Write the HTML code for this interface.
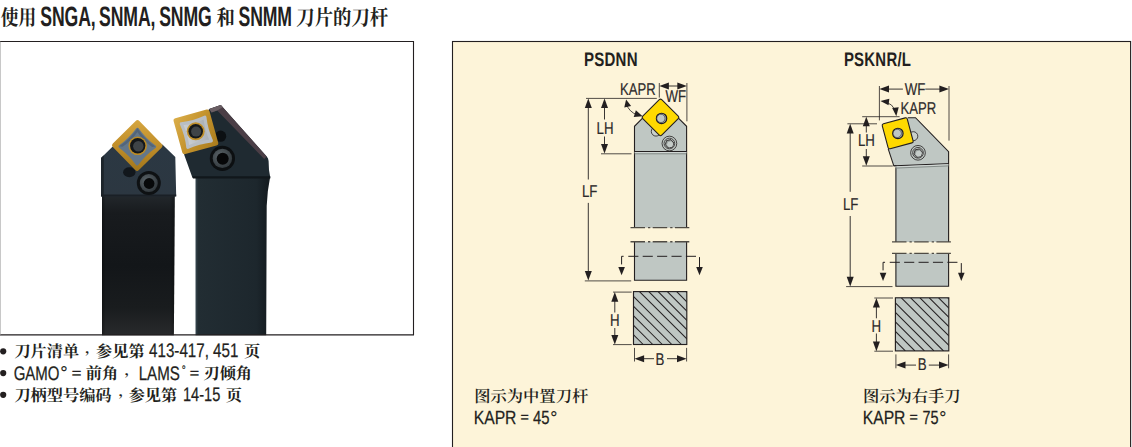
<!DOCTYPE html>
<html lang="zh-CN">
<head>
<meta charset="utf-8">
<title>使用 SNGA, SNMA, SNMG 和 SNMM 刀片的刀杆</title>
<style>
html,body{margin:0;padding:0;background:#fff;}
body{width:1132px;height:447px;position:relative;overflow:hidden;font-family:"Liberation Sans",sans-serif;}
#art{position:absolute;left:0;top:0;width:1132px;height:447px;display:block;}
</style>
</head>
<body>
<svg id="art" width="1132" height="447" viewBox="0 0 1132 447" font-family="'Liberation Sans', sans-serif" text-rendering="geometricPrecision">
<text transform="translate(0.73 24.80) scale(0.84 1)" font-size="21.2" font-weight="bold" fill="#231f20" font-family="'Liberation Serif', 'Noto Serif CJK SC', serif">使用</text>
<text transform="translate(40.30 25.55) scale(0.63 1)" font-size="28.0" fill="#231f20" font-weight="bold" letter-spacing="-0.190">SNGA,</text>
<text transform="translate(99.10 25.55) scale(0.63 1)" font-size="28.0" fill="#231f20" font-weight="bold" letter-spacing="-0.190">SNMA,</text>
<text transform="translate(159.20 25.55) scale(0.63 1)" font-size="28.0" fill="#231f20" font-weight="bold" letter-spacing="-0.190">SNMG</text>
<text transform="translate(238.50 25.55) scale(0.63 1)" font-size="28.0" fill="#231f20" font-weight="bold" letter-spacing="-0.190">SNMM</text>
<text transform="translate(216.38 24.80) scale(0.868 1)" font-size="21.2" font-weight="bold" fill="#231f20" font-family="'Liberation Serif', 'Noto Serif CJK SC', serif">和</text>
<text transform="translate(296.25 24.80) scale(0.868 1)" font-size="21.2" font-weight="bold" fill="#231f20" font-family="'Liberation Serif', 'Noto Serif CJK SC', serif">刀片的刀杆</text>
<!-- photo: two toolholders -->
<defs>
<linearGradient id="shL" x1="0" x2="0" y1="196" y2="335" gradientUnits="userSpaceOnUse"><stop offset="0" stop-color="#22272b"/><stop offset=".12" stop-color="#181b1e"/><stop offset=".5" stop-color="#131619"/><stop offset=".8" stop-color="#191c1e"/><stop offset="1" stop-color="#282a2c"/></linearGradient>
<linearGradient id="shLx" x1="102" x2="174.5" y1="0" y2="0" gradientUnits="userSpaceOnUse"><stop offset="0" stop-color="#000" stop-opacity=".35"/><stop offset=".05" stop-color="#000" stop-opacity="0"/><stop offset=".93" stop-color="#000" stop-opacity="0"/><stop offset="1" stop-color="#000" stop-opacity=".3"/></linearGradient>
<linearGradient id="shR" x1="195.5" x2="267" y1="0" y2="0" gradientUnits="userSpaceOnUse"><stop offset="0" stop-color="#3a4a52"/><stop offset=".035" stop-color="#222d33"/><stop offset=".85" stop-color="#1d272d"/><stop offset="1" stop-color="#151c21"/></linearGradient>
<linearGradient id="hdL" x1="0" x2="0" y1="146" y2="196" gradientUnits="userSpaceOnUse"><stop offset="0" stop-color="#2b3843"/><stop offset="1" stop-color="#2c3741"/></linearGradient>
<linearGradient id="gold" x1="0" x2="1" y1="0" y2="1"><stop offset="0" stop-color="#d6a741"/><stop offset=".5" stop-color="#c08e2a"/><stop offset="1" stop-color="#a2761b"/></linearGradient>
<linearGradient id="goldR" x1="0" x2="1" y1="0" y2="1"><stop offset="0" stop-color="#dbae49"/><stop offset=".5" stop-color="#c3922c"/><stop offset="1" stop-color="#aa7c1d"/></linearGradient>
<linearGradient id="slv" x1="0" x2="1" y1="0" y2="0"><stop offset="0" stop-color="#ccd0d4"/><stop offset="1" stop-color="#a9aeb4"/></linearGradient>
<radialGradient id="scr" cx=".4" cy=".38" r=".7"><stop offset="0" stop-color="#5d666b"/><stop offset="1" stop-color="#2d3438"/></radialGradient>
</defs>
<g id="photo">
<!-- left tool -->
<path d="M102 195.5 H174.8 L173.9 335.2 H102 Z" fill="url(#shL)"/>
<path d="M102 195.5 H174.8 L173.9 335.2 H102 Z" fill="url(#shLx)"/>
<path d="M101 196.2 V158 L112.7 146.6 L137 160 L162.4 144.6 L175.3 157 L176.2 196.2 Z" fill="url(#hdL)"/>
<path d="M101 196.2 V158 L103.8 155.2 V196.2 Z" fill="#1d252b"/>
<path d="M101 194.6 H176.2 V196.4 H101 Z" fill="#1a2026"/>
<ellipse cx="129.3" cy="172.3" rx="6.2" ry="5" fill="#12171c"/>
<g transform="translate(137.3 145.5) rotate(45.5)">
<rect x="-18.6" y="-18.6" width="37.2" height="37.2" rx="2.6" fill="url(#gold)"/>
<g transform="translate(0.8 0.8)"><path d="M-12.2 -12.2 Q0 -10.2 12.2 -12.2 Q10.2 0 12.2 12.2 Q0 10.2 -12.2 12.2 Q-10.2 0 -12.2 -12.2 Z" fill="#64778a" stroke="#64778a" stroke-width="3.2" stroke-linejoin="round"/>
<path d="M-13 12.6 Q-10.4 0 -13 -13 Q0 -10.4 12.6 -13 L10.6 -10.4 Q0 -8.2 -10.4 -10.4 Q-8.2 0 -10.4 10.6 Z" fill="#4d5f74" opacity=".75"/></g>
</g>
<circle cx="137.7" cy="145.8" r="9.3" fill="#bb8b26"/>
<circle cx="137.7" cy="145.8" r="7.7" fill="#14171a"/>
<circle cx="138.3" cy="146.3" r="5.2" fill="#3f4447"/>
<circle cx="148.8" cy="183.1" r="12" fill="#0e1113"/>
<circle cx="148.8" cy="183.1" r="9" fill="url(#scr)"/>
<circle cx="149.1" cy="183.5" r="5.4" fill="#07090a"/>
<!-- right tool -->
<path d="M195.5 176.5 H270.2 Q267.4 190 266.7 206 L266.2 335.2 H195.5 Z" fill="url(#shR)"/>
<path d="M192 176.6 L184.1 154.4 L190 130 L209.3 109.1 L220.8 105 L266.7 156.4 Q268.4 158 268.6 161 L269 170 L270.3 177.8 H192.6 Z" fill="#1f2a31"/>
<path d="M209.3 109.1 L220.8 105 L266.7 156.4 L264.2 158.9 L217.2 110.6 L211.5 112.4 Z" fill="#4b3e46"/>
<path d="M209.3 109.1 L220.8 105 L222.8 107.3 L217.2 110.6 L211.5 112.4 Z" fill="#6a5e63"/>
<path d="M192.3 176.2 H270.2 L270.3 178.6 H193 Z" fill="#11171b"/>
<circle cx="220.6" cy="136.2" r="5.6" fill="#0c1013"/>
<g transform="translate(195.9 131.8) rotate(-15.5)">
<rect x="-18.6" y="-18.6" width="37.2" height="37.2" rx="2.4" fill="url(#goldR)"/>
<path d="M-12.2 -12.2 Q0 -10.2 12.2 -12.2 Q10.2 0 12.2 12.2 Q0 10.2 -12.2 12.2 Q-10.2 0 -12.2 -12.2 Z" fill="url(#slv)" stroke="#b9bec3" stroke-width="3.2" stroke-linejoin="round" transform="translate(0.3 0.6)"/>
</g>
<circle cx="195.7" cy="131.3" r="9" fill="#c0902b"/>
<circle cx="195.7" cy="131.3" r="7.3" fill="#15181a"/>
<circle cx="196.1" cy="131.6" r="5" fill="#3f4447"/>
<circle cx="222.4" cy="158.4" r="12.6" fill="#0c0f11"/>
<circle cx="222.4" cy="158.4" r="9.7" fill="url(#scr)"/>
<circle cx="222.7" cy="158.8" r="6" fill="#060708"/>
</g>
<!-- photo frame -->
<path d="M0 41.5 H413.5 V334.9 H0" fill="none" stroke="#231f20" stroke-width="1.1"/>
<path d="M0.2 41.5 V335" fill="none" stroke="#9a9a9a" stroke-width="0.8"/>

<circle cx="3.2" cy="351.3" r="3.1" fill="#231f20"/>
<circle cx="3.2" cy="373.1" r="3.1" fill="#231f20"/>
<circle cx="3.2" cy="394.8" r="3.1" fill="#231f20"/>
<text x="14.41" y="357.00" font-size="16.2" font-weight="bold" fill="#231f20" font-family="'Liberation Serif', 'Noto Serif CJK SC', serif">刀片清单</text>
<text transform="translate(85.00 352.99) scale(1 0.814)" font-size="14.5" font-weight="bold" fill="#231f20" font-family="'Liberation Serif', 'Noto Serif CJK SC', serif">，</text>
<text x="96.06" y="357.00" font-size="16.2" font-weight="bold" fill="#231f20" font-family="'Liberation Serif', 'Noto Serif CJK SC', serif">参见第</text>
<text transform="translate(149.05 357.00) scale(0.7738 1)" font-size="19.6" fill="#231f20" stroke="#231f20" stroke-width="0.25">413-417, 451</text>
<text x="243.97" y="357.00" font-size="16.2" font-weight="bold" fill="#231f20" font-family="'Liberation Serif', 'Noto Serif CJK SC', serif">页</text>
<text transform="translate(13.64 379.60) scale(0.7659 1)" font-size="19.6" fill="#231f20" stroke="#231f20" stroke-width="0.25">GAMO</text>
<text transform="translate(60.29 379.00) scale(0.9922 1)" font-size="18.7" fill="#231f20" stroke="#231f20" stroke-width="0.15">°</text>
<text transform="translate(71.80 378.10) scale(1.1356 1)" font-size="14.5" fill="#231f20" stroke="#231f20" stroke-width="0.35">=</text>
<text x="85.81" y="378.80" font-size="16.2" font-weight="bold" fill="#231f20" font-family="'Liberation Serif', 'Noto Serif CJK SC', serif">前角</text>
<text transform="translate(124.40 375.19) scale(1 0.814)" font-size="14.5" font-weight="bold" fill="#231f20" font-family="'Liberation Serif', 'Noto Serif CJK SC', serif">，</text>
<text transform="translate(138.66 379.60) scale(0.7706 1)" font-size="19.6" fill="#231f20" stroke="#231f20" stroke-width="0.25">LAMS</text>
<text transform="translate(181.89 378.20) scale(0.7816 1)" font-size="15.7" fill="#231f20" stroke="#231f20" stroke-width="0.15">˚</text>
<text transform="translate(189.82 378.10) scale(1.1072 1)" font-size="14.5" fill="#231f20" stroke="#231f20" stroke-width="0.35">=</text>
<text x="203.51" y="378.80" font-size="16.2" font-weight="bold" fill="#231f20" font-family="'Liberation Serif', 'Noto Serif CJK SC', serif">刃倾角</text>
<text x="14.41" y="400.50" font-size="16.2" font-weight="bold" fill="#231f20" font-family="'Liberation Serif', 'Noto Serif CJK SC', serif">刀柄型号编码</text>
<text transform="translate(118.40 395.69) scale(1 0.814)" font-size="14.5" font-weight="bold" fill="#231f20" font-family="'Liberation Serif', 'Noto Serif CJK SC', serif">，</text>
<text x="128.66" y="400.50" font-size="16.2" font-weight="bold" fill="#231f20" font-family="'Liberation Serif', 'Noto Serif CJK SC', serif">参见第</text>
<text transform="translate(182.99 400.70) scale(0.7446 1)" font-size="19.6" fill="#231f20" stroke="#231f20" stroke-width="0.25">14-15</text>
<text x="225.87" y="400.50" font-size="16.2" font-weight="bold" fill="#231f20" font-family="'Liberation Serif', 'Noto Serif CJK SC', serif">页</text>
<g id="panel">
<rect x="452.5" y="41.5" width="678.1" height="410" fill="#fdf4d9" stroke="#231f20" stroke-width="1.1"/>
<path d="M634.5 227.8 V126.3 L643.6 117.2 H677.4 L686.6 126.3 V227.8 Z" fill="#bfc7c3"/>
<path d="M634.5 227.8 V126.3 L643.6 117.2 M677.4 117.2 L686.6 126.3 V227.8" fill="none" stroke="#231f20" stroke-width="1.1"/>
<path d="M634.5 241.8 V280.3 H686.6 V241.8 Z" fill="#bfc7c3"/>
<path d="M634.5 241.8 V280.3 H686.6 V241.8" fill="none" stroke="#231f20" stroke-width="1.1"/>
<path d="M634.5 151.5 L686.6 151.5" stroke="#231f20" stroke-width="1.0" fill="none"/>
<path d="M634.5 152.6 L686.6 152.6" stroke="#d3d9d6" stroke-width="1.0" fill="none"/>
<path d="M634.5 153.8 L686.6 153.8" stroke="#7d8481" stroke-width="0.9" fill="none"/>
<path d="M630.5 227.6 L689.3 227.6" stroke="#4f4b44" stroke-width="1.35" fill="none" stroke-dasharray="14.5 3 2.3 2.4"/>
<path d="M630.5 241.7 L689.3 241.7" stroke="#4f4b44" stroke-width="1.35" fill="none" stroke-dasharray="14.5 3 2.3 2.4"/>
<circle cx="656.0" cy="131.4" r="4.7" fill="#c9d0cc" stroke="#231f20" stroke-width="0.8"/>
<circle cx="669.4" cy="143.5" r="7.35" fill="none" stroke="#231f20" stroke-width="0.8"/><circle cx="669.4" cy="143.5" r="5.35" fill="none" stroke="#231f20" stroke-width="0.75"/><polygon points="673.85,142.89 672.49,147.07 668.19,147.98 665.25,144.71 666.61,140.53 670.91,139.62" fill="#949b98" stroke="#231f20" stroke-width="0.85" stroke-linejoin="round"/><polygon points="673.33,143.71 672.31,146.85 669.08,147.54 666.87,145.09 667.89,141.95 671.12,141.26" fill="#c6cdca"/>
<rect x="-13.4" y="-13.4" width="26.8" height="26.8" rx="1.7" transform="translate(660.5 117.4) rotate(45)" fill="#ffd900" stroke="#231f20" stroke-width="1.1"/>
<circle cx="661.55" cy="118.4" r="5.2" fill="#a6aeab" stroke="#1c1a24" stroke-width="1.15"/><circle cx="660.9" cy="118.4" r="4.15" fill="#bfc7c4" stroke="#1c1a24" stroke-width="0.55"/>
<path d="M586 98.4 L656.8 98.4" stroke="#3d3935" stroke-width="0.9" fill="none"/>
<path d="M584.8 280.9 L631.2 280.9" stroke="#3d3935" stroke-width="0.9" fill="none"/>
<path d="M601 153.8 L631.5 153.8" stroke="#3d3935" stroke-width="0.9" fill="none"/>
<path d="M659.3 83 L659.3 97.6" stroke="#231f20" stroke-width="0.8" fill="none"/>
<path d="M686.9 83 L686.9 121.3" stroke="#231f20" stroke-width="0.8" fill="none"/>
<path d="M588.3 102.4 L588.3 179.5" stroke="#231f20" stroke-width="0.9" fill="none"/><path d="M588.3 202.9 L588.3 276.5" stroke="#231f20" stroke-width="0.9" fill="none"/><path d="M588.30 98.40 L591.80 108.00 L584.80 108.00 Z" fill="#231f20"/><path d="M588.30 280.50 L584.80 270.90 L591.80 270.90 Z" fill="#231f20"/>
<path d="M604.5 102.4 L604.5 119.5" stroke="#231f20" stroke-width="0.9" fill="none"/><path d="M604.5 136.5 L604.5 149.5" stroke="#231f20" stroke-width="0.9" fill="none"/><path d="M604.50 98.40 L608.00 108.00 L601.00 108.00 Z" fill="#231f20"/><path d="M604.50 153.50 L601.00 143.90 L608.00 143.90 Z" fill="#231f20"/>
<path d="M663.3 86.0 L682.9 86.0" stroke="#231f20" stroke-width="0.9" fill="none"/><path d="M659.30 86.00 L668.90 82.50 L668.90 89.50 Z" fill="#231f20"/><path d="M686.90 86.00 L677.30 89.50 L677.30 82.50 Z" fill="#231f20"/>
<path d="M626.3 104 A18.2 18.2 0 0 0 637.5 115" fill="none" stroke="#231f20" stroke-width="0.8"/>
<path d="M626.10 99.40 L631.11 105.88 L624.27 107.38 Z" fill="#231f20"/>
<path d="M642.60 116.20 L633.72 117.03 L635.86 110.37 Z" fill="#231f20"/>
<path d="M621.6 264.40000000000003 V256.3 H623.6" fill="none" stroke="#231f20" stroke-width="1.0"/><path d="M628.3 256.3 L638.4 256.3" stroke="#231f20" stroke-width="1.0" fill="none"/><path d="M642.7 256.3 L652.8 256.3" stroke="#231f20" stroke-width="1.0" fill="none"/><path d="M657.1 256.3 L667.2 256.3" stroke="#231f20" stroke-width="1.0" fill="none"/><path d="M671.5 256.3 L681.6 256.3" stroke="#231f20" stroke-width="1.0" fill="none"/><path d="M685.9 256.3 L696.0 256.3" stroke="#231f20" stroke-width="1.0" fill="none"/><path d="M699.5 257.1 L699.5 269.2" stroke="#231f20" stroke-width="1.0" fill="none"/><path d="M621.60 275.20 L618.30 267.00 L624.90 267.00 Z" fill="#231f20"/><path d="M699.50 275.20 L696.20 267.00 L702.80 267.00 Z" fill="#231f20"/>
<rect x="633.5" y="291.6" width="53.3" height="52.9" fill="#bfc7c3"/>
<clipPath id="h1"><rect x="633.5" y="291.6" width="53.299999999999955" height="52.89999999999998"/></clipPath><g clip-path="url(#h1)" stroke="#231f20" stroke-width="1.05"><path d="M639.50 291.6 L692.40 344.5"/><path d="M648.80 291.6 L701.70 344.5"/><path d="M658.10 291.6 L711.00 344.5"/><path d="M667.40 291.6 L720.30 344.5"/><path d="M676.70 291.6 L729.60 344.5"/><path d="M686.00 291.6 L738.90 344.5"/><path d="M628.50 291.6 L681.40 344.5"/><path d="M618.95 291.6 L671.85 344.5"/><path d="M609.40 291.6 L662.30 344.5"/><path d="M599.85 291.6 L652.75 344.5"/><path d="M590.30 291.6 L643.20 344.5"/></g>
<rect x="633.5" y="291.6" width="53.3" height="52.9" fill="none" stroke="#231f20" stroke-width="1.15"/>
<path d="M613 292.1 L631.7 292.1" stroke="#3d3935" stroke-width="0.9" fill="none"/>
<path d="M613 344.6 L631.7 344.6" stroke="#3d3935" stroke-width="0.9" fill="none"/>
<path d="M614.8 296.1 L614.8 312.5" stroke="#231f20" stroke-width="0.9" fill="none"/><path d="M614.8 328 L614.8 340.6" stroke="#231f20" stroke-width="0.9" fill="none"/><path d="M614.80 292.10 L618.30 301.70 L611.30 301.70 Z" fill="#231f20"/><path d="M614.80 344.60 L611.30 335.00 L618.30 335.00 Z" fill="#231f20"/>
<path d="M634.5 347.9 L634.5 361.5" stroke="#231f20" stroke-width="0.8" fill="none"/>
<path d="M686.6 347.9 L686.6 361.5" stroke="#231f20" stroke-width="0.8" fill="none"/>
<path d="M638.5 358.7 L654 358.7" stroke="#231f20" stroke-width="0.9" fill="none"/><path d="M667 358.7 L682.6 358.7" stroke="#231f20" stroke-width="0.9" fill="none"/><path d="M634.50 358.70 L644.10 355.20 L644.10 362.20 Z" fill="#231f20"/><path d="M686.60 358.70 L677.00 362.20 L677.00 355.20 Z" fill="#231f20"/>
<path d="M895.9 242 V165.8 H893.8 L888.2 148.8 L907.8 117.7 H915.5 L948.6 151.6 V242 Z" fill="#bfc7c3"/>
<path d="M895.9 242 V165.8 H893.8 L888.2 148.8 M907.8 117.7 H915.5 L948.6 151.6 V242" fill="none" stroke="#231f20" stroke-width="1.1"/>
<path d="M895.9 253.5 V286.3 H948.6 V253.5 Z" fill="#bfc7c3"/>
<path d="M895.9 253.5 V286.3 H948.6 V253.5" fill="none" stroke="#231f20" stroke-width="1.1"/>
<path d="M893.8 165.8 L948.6 163.6" stroke="#231f20" stroke-width="1.0" fill="none"/>
<path d="M895 167.0 L948.6 164.8" stroke="#d3d9d6" stroke-width="1.0" fill="none"/>
<path d="M895.6 168.1 L948.6 165.9" stroke="#7d8481" stroke-width="0.9" fill="none"/>
<path d="M892.0 241.9 L951.0 241.9" stroke="#4f4b44" stroke-width="1.35" fill="none" stroke-dasharray="14.5 3 2.3 2.4"/>
<path d="M892.0 253.4 L951.0 253.4" stroke="#4f4b44" stroke-width="1.35" fill="none" stroke-dasharray="14.5 3 2.3 2.4"/>
<circle cx="913.3" cy="136.2" r="4.5" fill="#c9d0cc" stroke="#231f20" stroke-width="0.8"/>
<circle cx="918.0" cy="152.8" r="7.35" fill="none" stroke="#231f20" stroke-width="0.8"/><circle cx="918.0" cy="152.8" r="5.35" fill="none" stroke="#231f20" stroke-width="0.75"/><polygon points="922.45,152.19 921.09,156.37 916.79,157.28 913.85,154.01 915.21,149.83 919.51,148.92" fill="#949b98" stroke="#231f20" stroke-width="0.85" stroke-linejoin="round"/><polygon points="921.93,153.01 920.91,156.15 917.68,156.84 915.47,154.39 916.49,151.25 919.72,150.56" fill="#c6cdca"/>
<rect x="-12.95" y="-12.95" width="25.9" height="25.9" rx="1.7" transform="translate(897.7 133.3) rotate(-15)" fill="#ffd900" stroke="#231f20" stroke-width="1.1"/>
<circle cx="897.9" cy="133.4" r="5.2" fill="#a6aeab" stroke="#1c1a24" stroke-width="1.15"/><circle cx="897.25" cy="133.4" r="4.15" fill="#bfc7c4" stroke="#1c1a24" stroke-width="0.55"/>
<path d="M862.2 116.7 L899.6 116.7" stroke="#3d3935" stroke-width="0.9" fill="none"/>
<path d="M847.4 123.8 L877.0 123.8" stroke="#3d3935" stroke-width="0.9" fill="none"/>
<path d="M862.2 166.0 L892.8 166.0" stroke="#3d3935" stroke-width="0.9" fill="none"/>
<path d="M846.1 286.6 L892.5 286.6" stroke="#3d3935" stroke-width="0.9" fill="none"/>
<path d="M879.4 86 L879.4 120.4" stroke="#231f20" stroke-width="0.8" fill="none"/>
<path d="M949.0 86 L949.0 140.6" stroke="#231f20" stroke-width="0.8" fill="none"/>
<path d="M883.4 89.1 L902.9 89.1" stroke="#231f20" stroke-width="0.9" fill="none"/><path d="M925.3 89.1 L945.0 89.1" stroke="#231f20" stroke-width="0.9" fill="none"/><path d="M879.40 89.10 L889.00 85.60 L889.00 92.60 Z" fill="#231f20"/><path d="M949.00 89.10 L939.40 92.60 L939.40 85.60 Z" fill="#231f20"/>
<path d="M850.2 127.8 L850.2 191.8" stroke="#231f20" stroke-width="0.9" fill="none"/><path d="M850.2 216 L850.2 282.4" stroke="#231f20" stroke-width="0.9" fill="none"/><path d="M850.20 123.80 L853.70 133.40 L846.70 133.40 Z" fill="#231f20"/><path d="M850.20 286.40 L846.70 276.80 L853.70 276.80 Z" fill="#231f20"/>
<path d="M866.3 120.7 L866.3 132.5" stroke="#231f20" stroke-width="0.9" fill="none"/><path d="M866.3 149 L866.3 161.8" stroke="#231f20" stroke-width="0.9" fill="none"/><path d="M866.30 116.70 L869.80 126.30 L862.80 126.30 Z" fill="#231f20"/><path d="M866.30 165.80 L862.80 156.20 L869.80 156.20 Z" fill="#231f20"/>
<path d="M886 102 A15.5 15.5 0 0 1 895.2 110" fill="none" stroke="#231f20" stroke-width="0.8"/>
<path d="M880.40 101.00 L889.33 98.75 L888.55 105.30 Z" fill="#231f20"/>
<path d="M896.30 116.20 L892.16 107.97 L898.73 107.31 Z" fill="#231f20"/>
<path d="M883.05 270.40000000000003 V262.3 H885.05" fill="none" stroke="#231f20" stroke-width="1.0"/><path d="M889.75 262.3 L899.85 262.3" stroke="#231f20" stroke-width="1.0" fill="none"/><path d="M904.15 262.3 L914.25 262.3" stroke="#231f20" stroke-width="1.0" fill="none"/><path d="M918.55 262.3 L928.65 262.3" stroke="#231f20" stroke-width="1.0" fill="none"/><path d="M932.95 262.3 L943.05 262.3" stroke="#231f20" stroke-width="1.0" fill="none"/><path d="M947.35 262.3 L957.45 262.3" stroke="#231f20" stroke-width="1.0" fill="none"/><path d="M961.3 263.1 L961.3 275.0" stroke="#231f20" stroke-width="1.0" fill="none"/><path d="M883.05 281.00 L879.75 272.80 L886.35 272.80 Z" fill="#231f20"/><path d="M961.30 281.00 L958.00 272.80 L964.60 272.80 Z" fill="#231f20"/>
<rect x="895.4" y="297.8" width="53.4" height="53.1" fill="#bfc7c3"/>
<clipPath id="h2"><rect x="895.4" y="297.8" width="53.39999999999998" height="53.099999999999966"/></clipPath><g clip-path="url(#h2)" stroke="#231f20" stroke-width="1.05"><path d="M901.40 297.8 L954.50 350.9"/><path d="M910.70 297.8 L963.80 350.9"/><path d="M920.00 297.8 L973.10 350.9"/><path d="M929.30 297.8 L982.40 350.9"/><path d="M938.60 297.8 L991.70 350.9"/><path d="M947.90 297.8 L1001.00 350.9"/><path d="M890.40 297.8 L943.50 350.9"/><path d="M880.85 297.8 L933.95 350.9"/><path d="M871.30 297.8 L924.40 350.9"/><path d="M861.75 297.8 L914.85 350.9"/><path d="M852.20 297.8 L905.30 350.9"/></g>
<rect x="895.4" y="297.8" width="53.4" height="53.1" fill="none" stroke="#231f20" stroke-width="1.15"/>
<path d="M874.3 298.0 L893 298.0" stroke="#3d3935" stroke-width="0.9" fill="none"/>
<path d="M874.3 351.2 L893 351.2" stroke="#3d3935" stroke-width="0.9" fill="none"/>
<path d="M876.4 302.0 L876.4 318.3" stroke="#231f20" stroke-width="0.9" fill="none"/><path d="M876.4 333.5 L876.4 347.2" stroke="#231f20" stroke-width="0.9" fill="none"/><path d="M876.40 298.00 L879.90 307.60 L872.90 307.60 Z" fill="#231f20"/><path d="M876.40 351.20 L872.90 341.60 L879.90 341.60 Z" fill="#231f20"/>
<path d="M895.9 354.4 L895.9 368.3" stroke="#231f20" stroke-width="0.8" fill="none"/>
<path d="M948.6 354.4 L948.6 368.3" stroke="#231f20" stroke-width="0.8" fill="none"/>
<path d="M899.9 365.1 L916 365.1" stroke="#231f20" stroke-width="0.9" fill="none"/><path d="M928.8 365.1 L944.6 365.1" stroke="#231f20" stroke-width="0.9" fill="none"/><path d="M895.90 365.10 L905.50 361.60 L905.50 368.60 Z" fill="#231f20"/><path d="M948.60 365.10 L939.00 368.60 L939.00 361.60 Z" fill="#231f20"/>
</g>
<text transform="translate(583.89 66.20) scale(0.7709 1)" font-size="19.5" fill="#231f20" font-weight="bold" letter-spacing="0.324">PSDNN</text>
<text transform="translate(843.90 66.20) scale(0.766 1)" font-size="19.5" fill="#231f20" font-weight="bold" letter-spacing="0.326">PSKNR/L</text>
<text transform="translate(620.00 94.60) scale(0.77 1)" font-size="17" fill="#2d2a2b" stroke="#2d2a2b" stroke-width="0.2">KAPR</text>
<text transform="translate(665.40 102.35) scale(0.78 1)" font-size="17" fill="#2d2a2b" stroke="#2d2a2b" stroke-width="0.2">WF</text>
<text transform="translate(596.60 133.70) scale(0.78 1)" font-size="17" fill="#2d2a2b" stroke="#2d2a2b" stroke-width="0.2">LH</text>
<text transform="translate(581.90 196.80) scale(0.78 1)" font-size="17" fill="#2d2a2b" stroke="#2d2a2b" stroke-width="0.2">LF</text>
<text transform="translate(610.00 325.80) scale(0.78 1)" font-size="17" fill="#2d2a2b" stroke="#2d2a2b" stroke-width="0.2">H</text>
<text transform="translate(655.60 364.70) scale(0.78 1)" font-size="17" fill="#2d2a2b" stroke="#2d2a2b" stroke-width="0.2">B</text>
<text transform="translate(904.80 94.90) scale(0.78 1)" font-size="17" fill="#2d2a2b" stroke="#2d2a2b" stroke-width="0.2">WF</text>
<text transform="translate(900.60 114.20) scale(0.77 1)" font-size="17" fill="#2d2a2b" stroke="#2d2a2b" stroke-width="0.2">KAPR</text>
<text transform="translate(858.00 146.10) scale(0.78 1)" font-size="17" fill="#2d2a2b" stroke="#2d2a2b" stroke-width="0.2">LH</text>
<text transform="translate(843.00 209.60) scale(0.78 1)" font-size="17" fill="#2d2a2b" stroke="#2d2a2b" stroke-width="0.2">LF</text>
<text transform="translate(871.60 331.50) scale(0.78 1)" font-size="17" fill="#2d2a2b" stroke="#2d2a2b" stroke-width="0.2">H</text>
<text transform="translate(917.70 370.40) scale(0.78 1)" font-size="17" fill="#2d2a2b" stroke="#2d2a2b" stroke-width="0.2">B</text>
<text x="474.22" y="402.00" font-size="16.3" font-weight="600" fill="#231f20" font-family="'Liberation Serif', 'Noto Serif CJK SC', serif">图示为中置刀杆</text>
<text transform="translate(473.71 424.20) scale(0.8256 1)" font-size="19.0" fill="#231f20" stroke="#231f20" stroke-width="0.25">KAPR</text>
<text transform="translate(520.61 422.10) scale(0.9795 1)" font-size="14.5" fill="#231f20" stroke="#231f20" stroke-width="0.35">=</text>
<text transform="translate(533.06 424.20) scale(0.7789 1)" font-size="19.0" fill="#231f20" stroke="#231f20" stroke-width="0.25">45</text>
<text transform="translate(550.24 423.55) scale(0.954 1)" font-size="18.7" fill="#231f20" stroke="#231f20" stroke-width="0.15">°</text>
<text x="862.92" y="402.00" font-size="16.3" font-weight="600" fill="#231f20" font-family="'Liberation Serif', 'Noto Serif CJK SC', serif">图示为右手刀</text>
<text transform="translate(862.71 424.20) scale(0.8256 1)" font-size="19.0" fill="#231f20" stroke="#231f20" stroke-width="0.25">KAPR</text>
<text transform="translate(909.61 422.10) scale(0.9795 1)" font-size="14.5" fill="#231f20" stroke="#231f20" stroke-width="0.35">=</text>
<text transform="translate(922.46 424.20) scale(0.7592 1)" font-size="19.0" fill="#231f20" stroke="#231f20" stroke-width="0.25">75</text>
<text transform="translate(939.24 423.55) scale(0.954 1)" font-size="18.7" fill="#231f20" stroke="#231f20" stroke-width="0.15">°</text>
</svg>

</body>
</html>
